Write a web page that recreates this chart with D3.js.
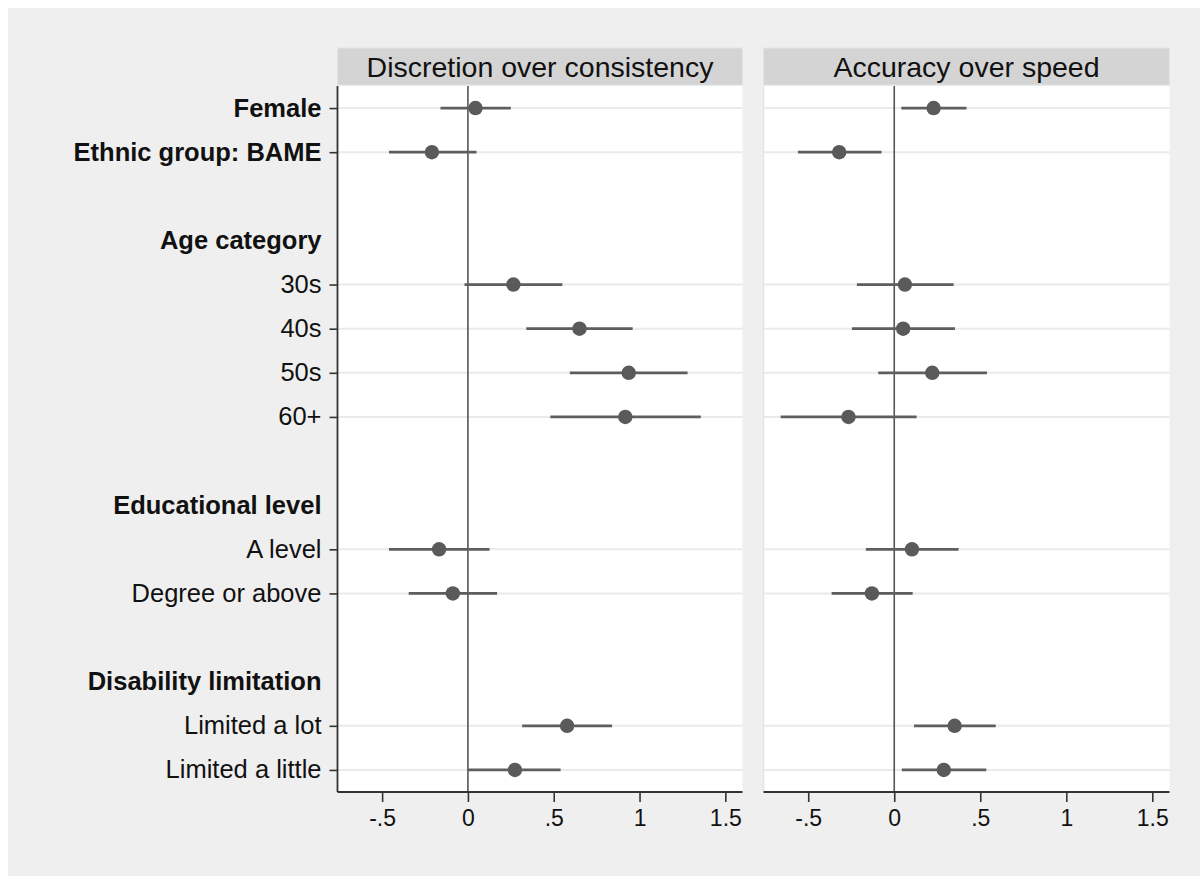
<!DOCTYPE html>
<html>
<head>
<meta charset="utf-8">
<script src="https://cdn.jsdelivr.net/npm/d3@7"></script>
<style>
  html, body { margin: 0; padding: 0; background: #ffffff; }
  svg { display: block; }
  text { font-family: "Liberation Sans", Arial, Helvetica, sans-serif; }
</style>
</head>
<body>
<svg id="chart" width="1200" height="876"></svg>
<script>
// ---------- data ----------
const rowLabels = ["Female", "Ethnic group: BAME", "", "Age category", "30s", "40s", "50s", "60+", "",
  "Educational level", "A level", "Degree or above", "", "Disability limitation", "Limited a lot", "Limited a little"];
const rowKinds = ["bold", "bold", "gap", "header", "item", "item", "item", "item", "gap",
  "header", "item", "item", "gap", "header", "item", "item"];

const panelTitles = ["Discretion over consistency", "Accuracy over speed"];

// estimates (null for header / gap rows)
const discretionEst = [0.044, -0.21, null, null, 0.265, 0.65, 0.937, 0.917, null, null, -0.168, -0.088, null, null, 0.578, 0.274];
const discretionLo  = [-0.16, -0.46, null, null, -0.02, 0.34, 0.594, 0.48, null, null, -0.46, -0.345, null, null, 0.316, 0.0];
const discretionHi  = [0.25, 0.05, null, null, 0.55, 0.96, 1.28, 1.357, null, null, 0.126, 0.17, null, null, 0.84, 0.54];

const accuracyEst = [0.229, -0.32, null, null, 0.062, 0.052, 0.221, -0.266, null, null, 0.103, -0.13, null, null, 0.351, 0.288];
const accuracyLo  = [0.041, -0.56, null, null, -0.217, -0.246, -0.093, -0.66, null, null, -0.165, -0.364, null, null, 0.115, 0.044];
const accuracyHi  = [0.42, -0.074, null, null, 0.345, 0.353, 0.539, 0.13, null, null, 0.374, 0.107, null, null, 0.59, 0.535];

const xTicks = [-0.5, 0, 0.5, 1, 1.5];
const xTickLabels = ["-.5", "0", ".5", "1", "1.5"];

// ---------- layout ----------
const svg = d3.select("#chart");
const W = 1200, H = 876;
const plotTop = 86, plotBottom = 792;
const headerTop = 48;
const panels = [
  { x0: 337.5, x1: 742.5, est: discretionEst, lo: discretionLo, hi: discretionHi, title: panelTitles[0] },
  { x0: 763.5, x1: 1169.5, est: accuracyEst, lo: accuracyLo, hi: accuracyHi, title: panelTitles[1] }
];

// background
svg.append("rect").attr("x", 0).attr("y", 0).attr("width", W).attr("height", H).attr("fill", "#ffffff");
svg.append("rect").attr("x", 8).attr("y", 8).attr("width", W - 8).attr("height", H - 8).attr("fill", "#efefef");

const y = d3.scaleLinear().domain([-0.5, rowLabels.length - 0.5]).range([plotTop, plotBottom]);
const dataRows = d3.range(rowLabels.length).filter(i => rowKinds[i] === "bold" || rowKinds[i] === "item");
const textRows = d3.range(rowLabels.length).filter(i => rowKinds[i] !== "gap");

panels.forEach((p, pi) => {
  const x = d3.scaleLinear().domain([-0.76, 1.6]).range([p.x0, p.x1]);
  const g = svg.append("g");

  // header strip
  g.append("rect")
    .attr("x", p.x0).attr("y", headerTop)
    .attr("width", p.x1 - p.x0).attr("height", plotTop - headerTop - 1)
    .attr("fill", "#d4d4d4").attr("stroke", "#dde5e5").attr("stroke-width", 1);
  g.append("text")
    .attr("x", (p.x0 + p.x1) / 2).attr("y", (headerTop + plotTop) / 2 + 9.5)
    .attr("text-anchor", "middle")
    .attr("font-size", 28.5).attr("fill", "#111")
    .text(p.title);

  // plot area
  g.append("rect")
    .attr("x", p.x0).attr("y", plotTop)
    .attr("width", p.x1 - p.x0).attr("height", plotBottom - plotTop)
    .attr("fill", "#ffffff");
  if (pi === 1) {
    g.append("line").attr("x1", p.x0).attr("x2", p.x0).attr("y1", plotTop).attr("y2", plotBottom)
      .attr("stroke", "#e4e4e4").attr("stroke-width", 1.5);
  }

  // gridlines
  g.selectAll("line.grid").data(dataRows).enter().append("line")
    .attr("class", "grid")
    .attr("x1", p.x0).attr("x2", p.x1)
    .attr("y1", d => y(d)).attr("y2", d => y(d))
    .attr("stroke", "#eaeaea").attr("stroke-width", 2);

  // zero line
  g.append("line")
    .attr("x1", x(0)).attr("x2", x(0))
    .attr("y1", plotTop).attr("y2", plotBottom)
    .attr("stroke", "#555555").attr("stroke-width", 1.6);

  // CIs
  g.selectAll("line.ci").data(dataRows).enter().append("line")
    .attr("class", "ci")
    .attr("x1", d => x(p.lo[d])).attr("x2", d => x(p.hi[d]))
    .attr("y1", d => y(d)).attr("y2", d => y(d))
    .attr("stroke", "#5e5e5e").attr("stroke-width", 2.8);

  // points
  g.selectAll("circle.pt").data(dataRows).enter().append("circle")
    .attr("class", "pt")
    .attr("cx", d => x(p.est[d])).attr("cy", d => y(d))
    .attr("r", 7.2)
    .attr("fill", "#5a5a5a");

  // x axis
  const xAxis = d3.axisBottom(x).tickValues(xTicks)
    .tickFormat((d, i) => xTickLabels[i]).tickSize(10).tickPadding(8);
  const ax = g.append("g").attr("transform", `translate(0,${plotBottom})`).call(xAxis);
  ax.select(".domain").attr("stroke", "#333").attr("stroke-width", 1.8)
    .attr("d", `M${p.x0},0H${p.x1}`);
  ax.selectAll(".tick line").attr("stroke", "#333").attr("stroke-width", 1.6);
  ax.selectAll(".tick text").attr("font-size", 23).attr("fill", "#111")
    .attr("font-family", "Liberation Sans, Arial, sans-serif");

  if (pi === 0) {
    // y axis
    const yAxis = d3.axisLeft(y).tickValues(dataRows).tickSize(8).tickFormat("");
    const ay = g.append("g").attr("transform", `translate(${p.x0},0)`).call(yAxis);
    ay.select(".domain").attr("stroke", "#333").attr("stroke-width", 1.8)
      .attr("d", `M0,${plotTop}V${plotBottom}`);
    ay.selectAll(".tick line").attr("stroke", "#333").attr("stroke-width", 1.6);

    // row labels
    g.selectAll("text.rowlab").data(textRows).enter().append("text")
      .attr("class", "rowlab")
      .attr("x", p.x0 - 16)
      .attr("y", d => y(d) + 8.5)
      .attr("text-anchor", "end")
      .attr("font-size", 25.5)
      .attr("font-weight", d => (rowKinds[d] === "bold" || rowKinds[d] === "header") ? "bold" : "normal")
      .attr("fill", "#111")
      .text(d => rowLabels[d]);
  }
});
</script>
</body>
</html>
